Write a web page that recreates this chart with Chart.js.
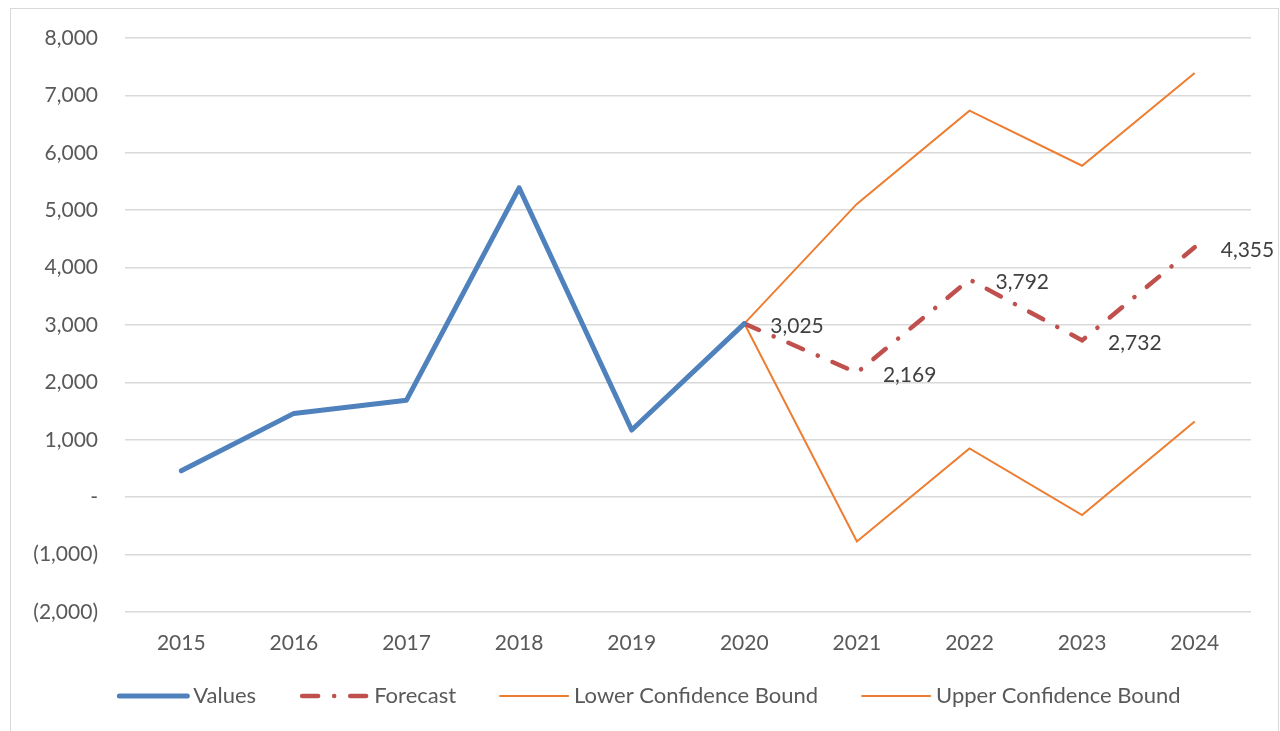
<!DOCTYPE html>
<html><head><meta charset="utf-8">
<script src="https://cdn.jsdelivr.net/npm/chart.js@4"></script>
<style>
html,body{margin:0;padding:0;background:#fff;}
#wrap{position:relative;width:1280px;height:731px;}
#frame{position:absolute;left:10px;top:8px;width:1269px;height:740px;border:1px solid #d9d9d9;box-sizing:border-box;}
canvas{position:absolute;left:0;top:0;}
</style></head>
<body><div id="wrap"><div id="frame"></div><canvas id="c" width="1280" height="731"></canvas></div>
<script>
const years = ['2015','2016','2017','2018','2019','2020','2021','2022','2023','2024'];
const values = [460, 1460, 1690, 5390, 1170, 3025, null, null, null, null];
const forecast = [null, null, null, null, null, 3025, 2169, 3792, 2732, 4355];
const lowerBound = [null, null, null, null, null, 3025, -770, 850, -310, 1320];
const upperBound = [null, null, null, null, null, 3025, 5110, 6735, 5775, 7390];
const yMin = -2000, yMax = 8000, yStep = 1000;

const FONT = 'Lato, "Open Sans", sans-serif';
const TXT = '#595959';

function fmt(v){
  if (v === 0) return '-';
  const s = Math.abs(v).toLocaleString('en-US');
  return v < 0 ? '(' + s + ')' : s;
}

const labelPlugin = {
  id: 'fcLabels',
  afterDatasetsDraw(chart){
    const ctx = chart.ctx;
    const meta = chart.getDatasetMeta(1);
    ctx.save();
    ctx.font = '21px ' + FONT;
    ctx.fillStyle = '#404040';
    ctx.textAlign = 'left';
    ctx.textBaseline = 'middle';
    meta.data.forEach((pt, i) => {
      const v = forecast[i];
      if (v === null) return;
      ctx.fillText(v.toLocaleString('en-US'), pt.x + 26, pt.y + 3);
    });
    ctx.restore();
  }
};

const legendPlugin = {
  id: 'customLegend',
  afterDraw(chart){
    const ctx = chart.ctx;
    const ds = chart.data.datasets;
    ctx.save();
    ctx.font = '22px ' + FONT;
    const sw = 72, gapT = 4, gapI = 42;
    let total = 0;
    const widths = ds.map(d => ctx.measureText(d.label).width);
    widths.forEach((w, i) => { total += sw + gapT + w + (i < ds.length - 1 ? gapI : 0); });
    let x = 649 - total / 2;
    const y = 696;
    ds.forEach((d, i) => {
      ctx.save();
      ctx.strokeStyle = d.borderColor;
      ctx.lineWidth = d.borderWidth;
      ctx.lineCap = 'round';
      ctx.setLineDash(d.borderDash || []);
      ctx.beginPath();
      if (d.borderDash) {
        ctx.moveTo(x + 4, y); ctx.lineTo(x + sw - 4, y);
      } else {
        ctx.moveTo(x + 2, y); ctx.lineTo(x + sw - 2, y);
      }
      ctx.stroke();
      ctx.restore();
      ctx.fillStyle = TXT;
      ctx.textBaseline = 'middle';
      ctx.fillText(d.label, x + sw + gapT, y);
      x += sw + gapT + widths[i] + gapI;
    });
    ctx.restore();
  }
};

new Chart(document.getElementById('c'), {
  type: 'line',
  data: {
    labels: years,
    datasets: [
      { label: 'Values', data: values, borderColor: '#4F81BD', borderWidth: 5, pointRadius: 0, tension: 0, spanGaps: false, borderCapStyle: 'round', borderJoinStyle: 'round' },
      { label: 'Forecast', data: forecast, borderColor: '#C0504D', borderWidth: 4.5, borderDash: [16, 16, 0.1, 16], borderCapStyle: 'round', pointRadius: 0, tension: 0 },
      { label: 'Lower Confidence Bound', data: lowerBound, borderColor: '#ED7D31', borderWidth: 2, pointRadius: 0, tension: 0 },
      { label: 'Upper Confidence Bound', data: upperBound, borderColor: '#ED7D31', borderWidth: 2, pointRadius: 0, tension: 0 }
    ]
  },
  options: {
    responsive: false,
    animation: false,
    layout: { padding: { left: 10, top: 38, right: 29, bottom: 69 } },
    plugins: { legend: { display: false }, tooltip: { enabled: false } },
    scales: {
      x: {
        offset: true,
        grid: { display: false, drawTicks: false },
        border: { display: false },
        ticks: { color: TXT, font: { family: FONT, size: 21 }, padding: 19, maxRotation: 0 },
        afterFit(s){ s.height = 50; s.paddingLeft = 0; s.paddingRight = 0; }
      },
      y: {
        min: yMin, max: yMax,
        grid: { color: '#d9d9d9', lineWidth: 1.5, drawTicks: false },
        border: { display: false },
        ticks: { stepSize: yStep, color: TXT, font: { family: FONT, size: 21 }, padding: 27, callback: v => fmt(v) },
        afterFit(s){ s.width = 115; s.paddingTop = 0; s.paddingBottom = 0; }
      }
    }
  },
  plugins: [labelPlugin, legendPlugin]
});
</script></body></html>
